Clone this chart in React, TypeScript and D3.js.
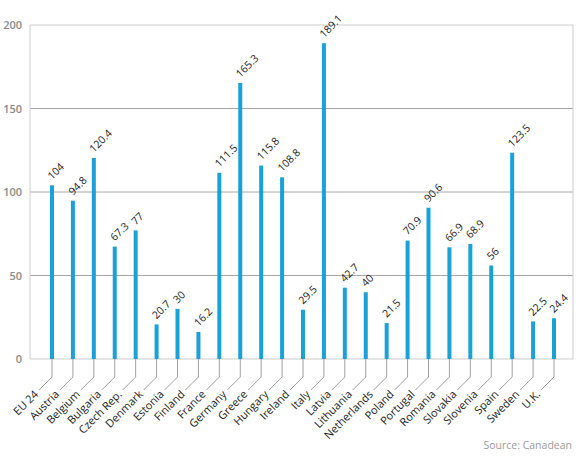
import React from "react";
import * as d3 from "d3";

const countries = ["EU 24","Austria","Belgium","Bulgaria","Czech Rep.","Denmark","Estonia","Finland","France","Germany","Greece","Hungary","Ireland","Italy","Latvia","Lithuania","Netherlands","Poland","Portugal","Romania","Slovakia","Slovenia","Spain","Sweden","U.K."];
const values = [104,94.8,120.4,67.3,77,20.7,30,16.2,111.5,165.3,115.8,108.8,29.5,189.1,42.7,40,21.5,70.9,90.6,66.9,68.9,56,123.5,22.5,24.4];
const yTicks = [0,50,100,150,200];

const W = 580, H = 464;
const L = 30, R = 573, T = 25, B = 359;
const FONT = "'Open Sans', 'Noto Sans', sans-serif";

export default function App() {
  const x = d3.scalePoint<string>().domain(countries).range([52, 554]);
  const y = d3.scaleLinear().domain([0, 200]).range([B, T]);
  return (
    <svg width={W} height={H} style={{ position: "absolute", left: 0, top: 0, background: "#fff" }}>
      {yTicks.map((t) => (
        <g key={t}>
          <line x1={L} x2={R} y1={y(t)} y2={y(t)} stroke={t === 0 || t === 200 ? "#cdcdcd" : "#a8a8a8"} strokeWidth={1} />
          <text x={22} y={y(t) + 4} textAnchor="end" fontFamily={FONT} fontSize={11} fontWeight={600} fill="#8a8a8a">{t}</text>
        </g>
      ))}
      <line x1={L} x2={L} y1={T} y2={B} stroke="#cdcdcd" />
      <line x1={R} x2={R} y1={T} y2={B} stroke="#cdcdcd" />
      {countries.map((c, i) => {
        const cx = x(c)!;
        const v = values[i];
        return (
          <g key={c}>
            <rect x={cx - 2} y={y(v)} width={4} height={B - y(v)} fill="#1ba1d8" />
            <polyline points={`${cx},${B} ${cx},${B + 18} ${cx - 13},${B + 31}`} fill="none" stroke="#a0a0a0" strokeWidth={1} />
            <text transform={`translate(${cx - 13},${B + 36}) rotate(-45)`} textAnchor="end" fontFamily={FONT} fontSize={11} fill="#222">{c}</text>
            <text transform={`translate(${cx},${y(v) - 5}) rotate(-45)`} textAnchor="start" fontFamily={FONT} fontSize={10.5} fill="#222">{v}</text>
          </g>
        );
      })}
      <text x={572} y={449} textAnchor="end" fontFamily={FONT} fontSize={10.5} fill="#9a9a9a">Source: Canadean</text>
    </svg>
  );
}
